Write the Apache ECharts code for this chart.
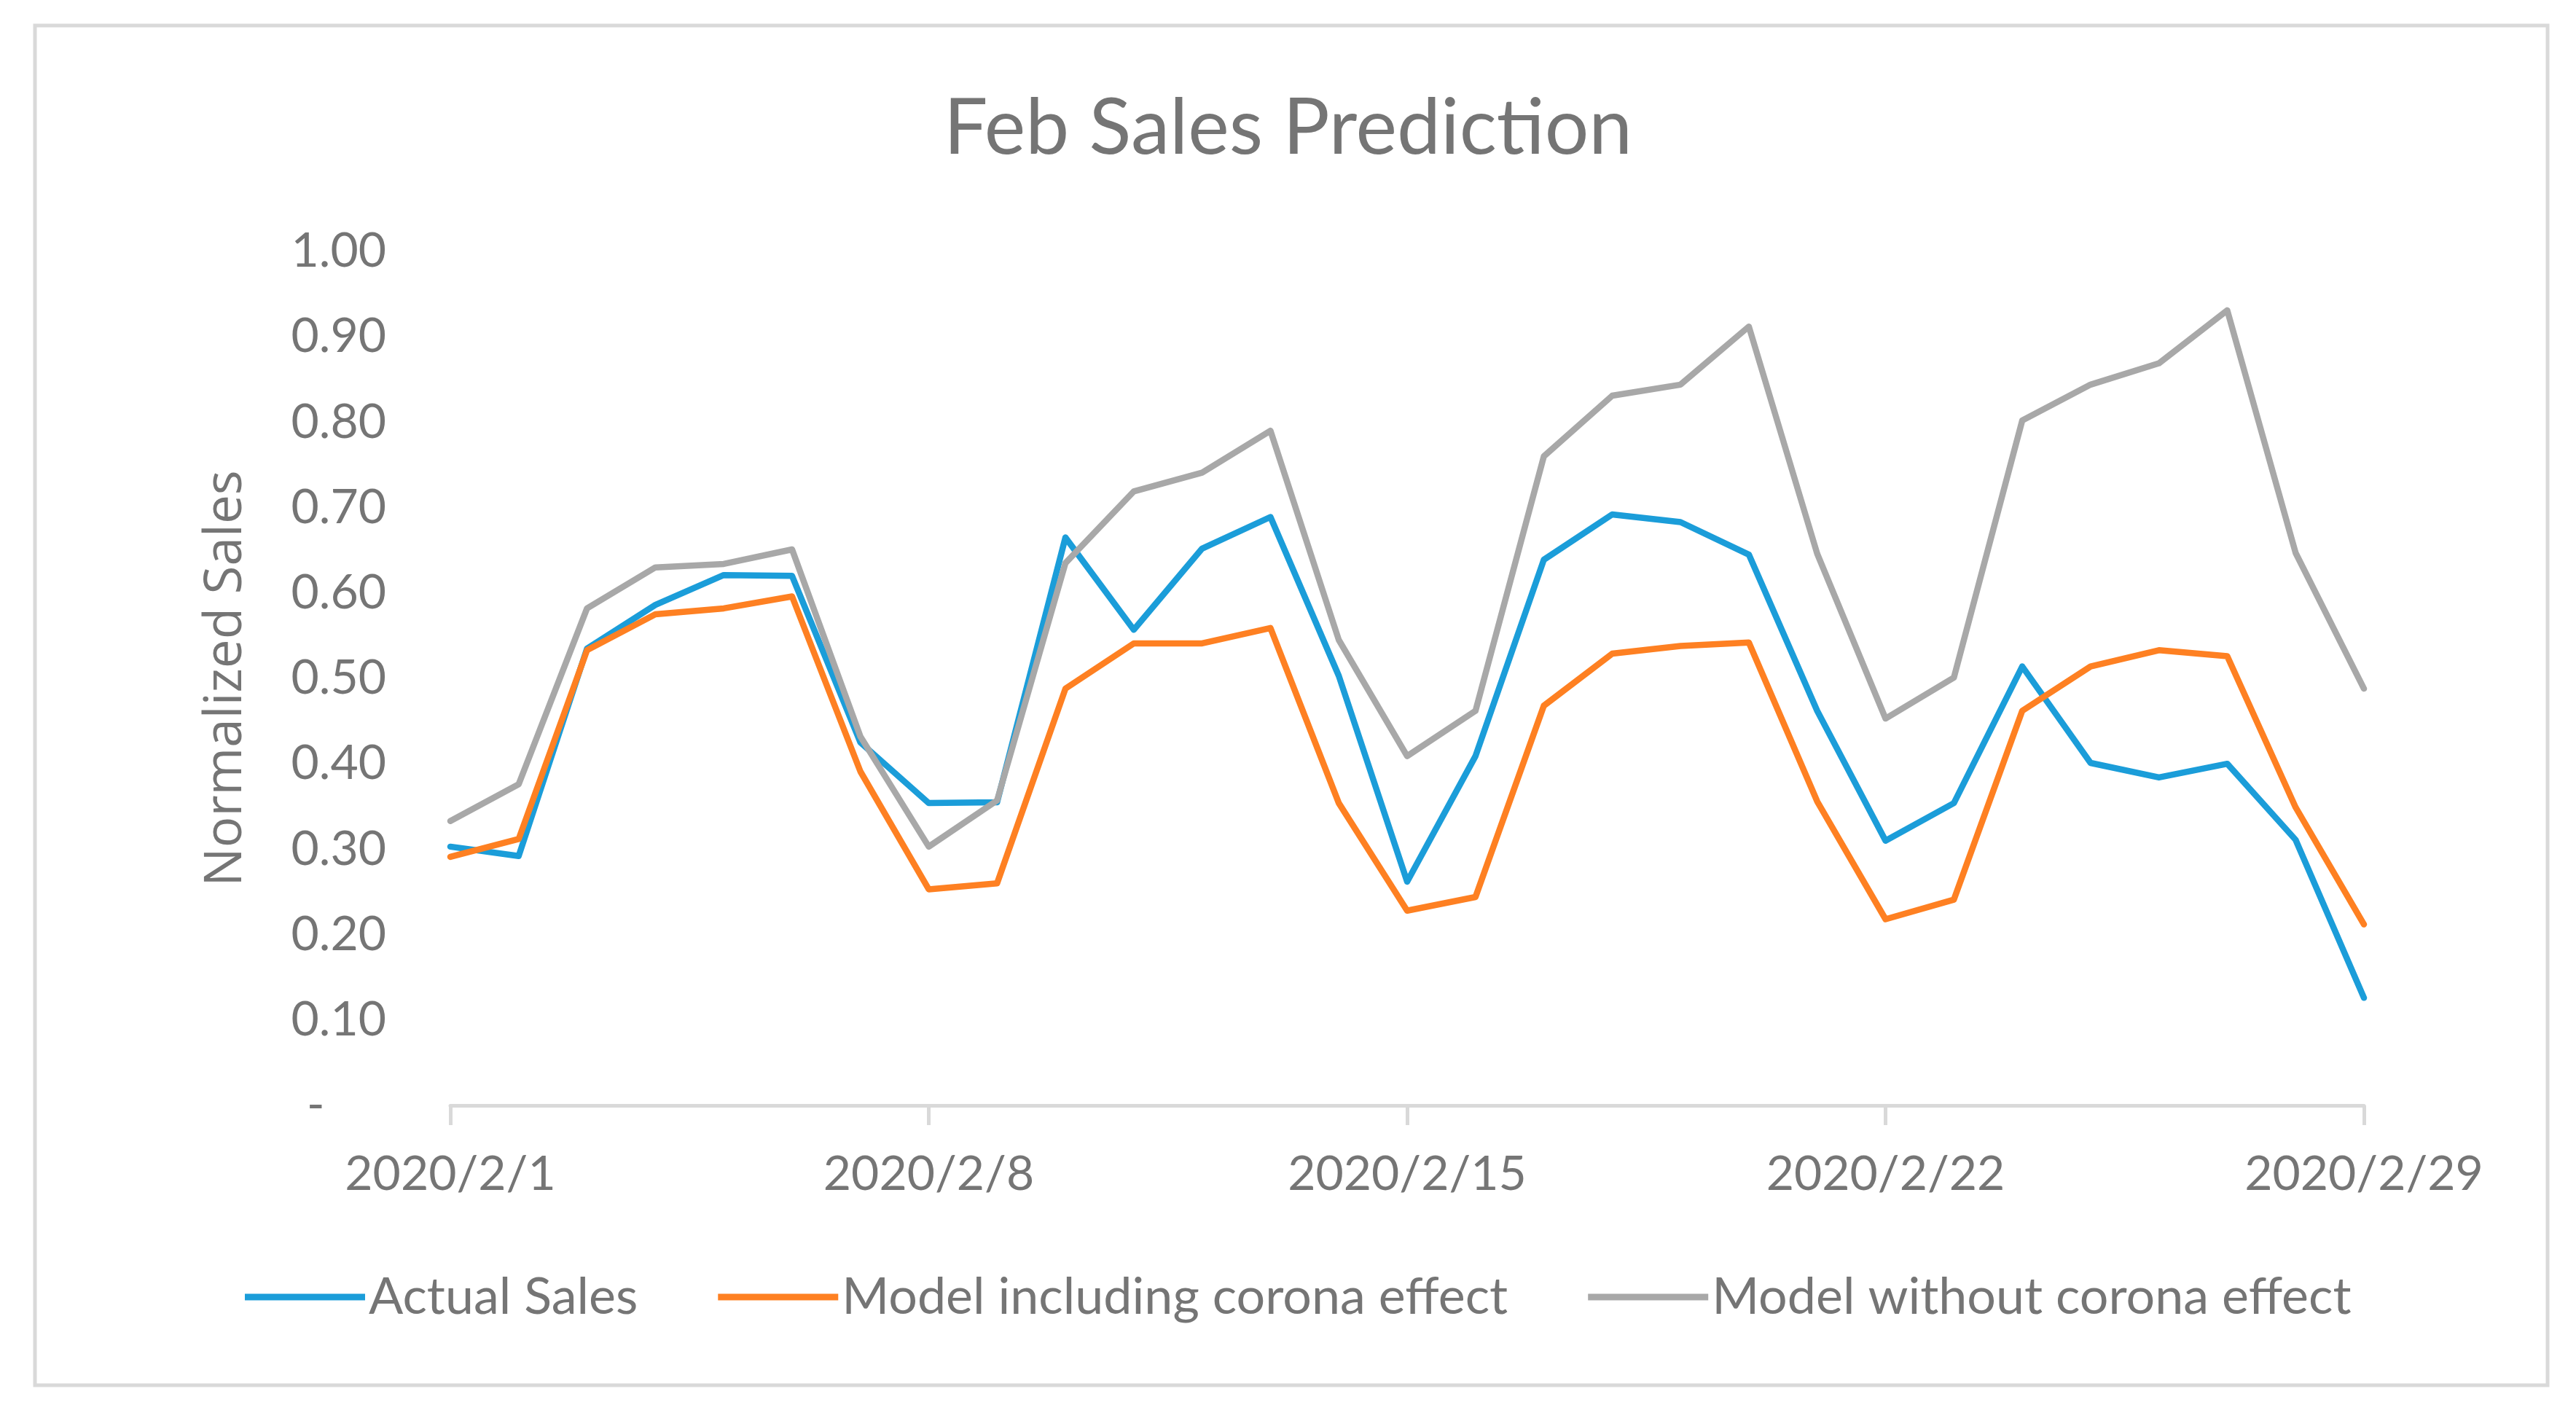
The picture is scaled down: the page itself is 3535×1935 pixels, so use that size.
<!DOCTYPE html>
<html>
<head>
<meta charset="utf-8">
<script src="https://cdn.jsdelivr.net/npm/echarts@6/dist/echarts.min.js"></script>
<style>
html,body{margin:0;padding:0;background:#fff;}
#chart{width:3535px;height:1935px;}
</style>
</head>
<body>
<div id="chart"></div>
<script>
const dates = ["2020/2/1","2020/2/2","2020/2/3","2020/2/4","2020/2/5","2020/2/6","2020/2/7","2020/2/8","2020/2/9","2020/2/10","2020/2/11","2020/2/12","2020/2/13","2020/2/14","2020/2/15","2020/2/16","2020/2/17","2020/2/18","2020/2/19","2020/2/20","2020/2/21","2020/2/22","2020/2/23","2020/2/24","2020/2/25","2020/2/26","2020/2/27","2020/2/28","2020/2/29"];
const actualSales = [0.303,0.292,0.535,0.586,0.621,0.620,0.425,0.354,0.355,0.665,0.557,0.652,0.689,0.503,0.262,0.409,0.639,0.692,0.683,0.645,0.462,0.310,0.354,0.514,0.401,0.384,0.400,0.311,0.126];
const modelWithCorona = [0.291,0.312,0.533,0.575,0.582,0.596,0.391,0.253,0.260,0.488,0.541,0.541,0.559,0.354,0.228,0.244,0.468,0.529,0.538,0.542,0.356,0.218,0.241,0.462,0.514,0.533,0.526,0.349,0.212];
const modelWithoutCorona = [0.333,0.376,0.582,0.630,0.634,0.651,0.432,0.303,0.357,0.635,0.719,0.741,0.790,0.545,0.409,0.462,0.760,0.831,0.844,0.912,0.646,0.453,0.501,0.802,0.844,0.869,0.931,0.647,0.488];
const seriesNames = ["Actual Sales","Model including corona effect","Model without corona effect"];
const titleText = "Feb Sales Prediction";
const yAxisName = "Normalized Sales";

const colors = ['#1b9dd9','#fe8022','#a8a8a8'];
const textColor = '#757575';
const font = 'Lato';

const chart = echarts.init(document.getElementById('chart'));
const mk = (name, data, c) => ({
  name, type:'line', data, symbol:'none', smooth:false,
  lineStyle:{color:c, width:8.5, join:'round', cap:'round'},
  itemStyle:{color:c}
});
chart.setOption({
  animation:false,
  backgroundColor:'#fff',
  graphic:[{type:'rect', shape:{x:48,y:35,width:3448,height:1866}, style:{fill:'none', stroke:'#d9d9d9', lineWidth:5}}],
  title:{text:titleText, left:'center', top:118, textStyle:{fontFamily:font, fontSize:107, fontWeight:'normal', color:textColor}},
  grid:{left:618, right:291, top:345, bottom:418},
  xAxis:{type:'category', data:dates, boundaryGap:false,
    axisLine:{lineStyle:{color:'#d9d9d9', width:5}},
    axisTick:{interval:6, length:27, lineStyle:{color:'#d9d9d9', width:5}},
    axisLabel:{interval:6, margin:62, fontFamily:font, fontSize:66, color:textColor},
    splitLine:{show:false}},
  yAxis:{type:'value', min:0, max:1, interval:0.1,
    name:yAxisName, nameLocation:'middle', nameGap:272,
    nameTextStyle:{fontFamily:'Open Sans', fontSize:71, color:textColor},
    axisLine:{show:false}, axisTick:{show:false}, splitLine:{show:false},
    axisLabel:{margin:88, fontFamily:font, fontSize:66, color:textColor,
      formatter:v => v === 0 ? '-     ' : v.toFixed(2)}},
  legend:{left:331, top:1740, icon:'rect', itemWidth:165, itemHeight:9, itemGap:110,
    textStyle:{fontFamily:font, fontSize:70, color:textColor, padding:[0,0,0,0]},
    data:seriesNames},
  series:[mk(seriesNames[0], actualSales, colors[0]), mk(seriesNames[1], modelWithCorona, colors[1]), mk(seriesNames[2], modelWithoutCorona, colors[2])]
});
</script>
</body>
</html>
